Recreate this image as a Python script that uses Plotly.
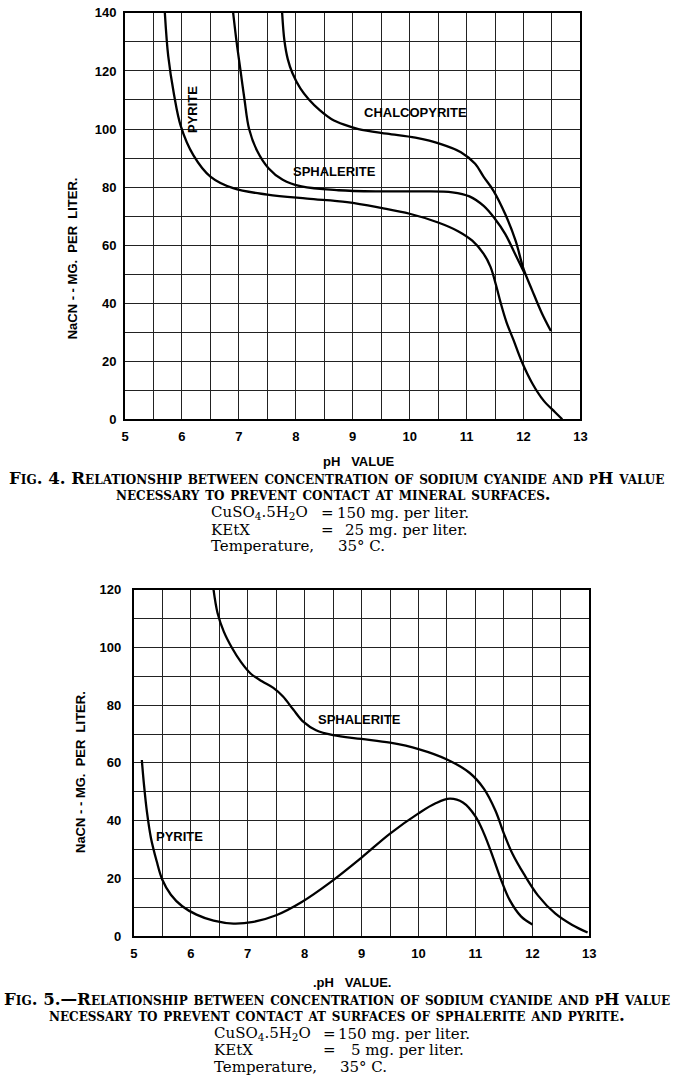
import plotly.graph_objects as go

# ---------------- data (Fig. 4) ----------------
f4_pyrite_ph = [5.70, 5.76, 5.86, 5.98, 6.2, 6.5, 6.9, 7.5, 8.2, 8.9, 9.5, 10.0, 10.5, 10.85,
                11.1, 11.3, 11.42, 11.52, 11.6, 11.7, 11.82, 11.97, 12.15, 12.35, 12.55, 12.68]
f4_pyrite_val = [140, 125, 112, 101, 91, 83.6, 79.6, 77.4, 76, 74.8, 72.8, 70.8, 67.8, 64.8,
                 61.5, 57, 52.5, 46, 40, 33.5, 27.5, 19.8, 12.5, 6.5, 2.5, 0]

f4_sphal_ph = [6.9, 6.96, 7.03, 7.1, 7.18, 7.32, 7.52, 7.77, 8.1, 8.75, 9.5, 10.2, 10.75, 11.05,
               11.3, 11.5, 11.68, 11.85, 12.02]
f4_sphal_val = [140, 130, 120, 110, 100, 92.5, 86.5, 82.5, 80.2, 78.9, 78.5, 78.5, 78.2, 76.8,
                73.5, 69, 63.8, 57, 50.2]

f4_chalco_ph = [7.76, 7.8, 7.86, 7.94, 8.08, 8.23, 8.42, 8.63, 8.85, 9.1, 9.6, 10.1, 10.55, 10.9,
                11.15, 11.3, 11.47, 11.68, 11.86, 12.0, 12.15, 12.32, 12.48]
f4_chalco_val = [140, 130.5, 124, 119.3, 114, 110.2, 106.5, 103.4, 101.5, 100, 98.4, 97, 94.8, 92,
                 88, 83.5, 78.8, 70.6, 61.5, 51.8, 44.5, 36.6, 30.4]

# ---------------- data (Fig. 5) ----------------
f5_sphal_ph = [6.4, 6.47, 6.58, 6.72, 6.88, 7.05, 7.25, 7.45, 7.62, 7.8, 7.98, 8.2, 8.5, 9.0, 9.5,
               10.0, 10.5, 10.9, 11.15, 11.35, 11.5, 11.65, 11.85, 12.1, 12.4, 12.7, 12.97]
f5_sphal_val = [120, 112, 105.5, 100, 95, 91, 88.3, 86, 83, 78.5, 74.2, 71.3, 69.6, 68.3, 67,
                64.8, 61.2, 56.5, 51, 43.5, 35.5, 28.5, 21.5, 14, 7.8, 3.8, 1.2]

f5_pyrite_ph = [5.14, 5.18, 5.23, 5.3, 5.4, 5.5, 5.65, 5.85, 6.1, 6.4, 6.75, 7.1, 7.5, 7.95, 8.45,
                9.0, 9.5, 10.0, 10.3, 10.55, 10.78, 11.0, 11.15, 11.3, 11.45, 11.6, 11.8, 12.0]
f5_pyrite_val = [61, 52, 43, 34, 26, 19.5, 14.3, 10.3, 7.4, 5.3, 4.3, 4.9, 7.2, 11.8, 18.6,
                 27.2, 35.5, 42.5, 46, 47.6, 46.3, 41.5, 35.5, 27.8, 19.5, 12.5, 6.8, 4.0]

x_ticks = [5, 6, 7, 8, 9, 10, 11, 12, 13]
f4_y_ticks = [0, 20, 40, 60, 80, 100, 120, 140]
f5_y_ticks = [0, 20, 40, 60, 80, 100, 120]

W, H = 676, 1086
SANS = "Liberation Sans"
SERIF = "DejaVu Serif"

fig = go.Figure()
line = dict(color="black", width=2.3, shape="spline", smoothing=1.0)

for xs, ys in [(f4_pyrite_ph, f4_pyrite_val), (f4_sphal_ph, f4_sphal_val), (f4_chalco_ph, f4_chalco_val)]:
    fig.add_trace(go.Scatter(x=xs, y=ys, mode="lines", line=line, xaxis="x", yaxis="y",
                             showlegend=False, hoverinfo="skip"))
for xs, ys in [(f5_sphal_ph, f5_sphal_val), (f5_pyrite_ph, f5_pyrite_val)]:
    fig.add_trace(go.Scatter(x=xs, y=ys, mode="lines", line=line, xaxis="x2", yaxis="y2",
                             showlegend=False, hoverinfo="skip"))


def px_x(p):
    return p / W


def px_y(p):
    return 1 - p / H


def xaxis(domain, ticklen):
    return dict(domain=domain, range=[5, 13], tickmode="array", tickvals=x_ticks,
                ticktext=[str(v) for v in x_ticks],
                showgrid=True, gridcolor="#222", gridwidth=1.3,
                minor=dict(dtick=0.5, tick0=5, showgrid=True, gridcolor="#222", gridwidth=1.3),
                showline=True, linecolor="black", linewidth=2, mirror=True,
                ticks="outside", ticklen=ticklen, tickcolor="rgba(0,0,0,0)",
                tickfont=dict(family=SANS, size=13, color="black", weight="bold"),
                zeroline=False, fixedrange=True)


def yaxis(domain, rng, tickvals, ticklen, anchor):
    return dict(domain=domain, range=rng, tickmode="array", tickvals=tickvals,
                ticktext=[str(v) for v in tickvals], anchor=anchor,
                showgrid=True, gridcolor="#222", gridwidth=1.3,
                minor=dict(dtick=10, tick0=0, showgrid=True, gridcolor="#222", gridwidth=1.3),
                showline=True, linecolor="black", linewidth=2, mirror=True,
                ticks="outside", ticklen=ticklen, tickcolor="rgba(0,0,0,0)",
                tickfont=dict(family=SANS, size=13, color="black", weight="bold"),
                zeroline=False, fixedrange=True)


fig.update_layout(
    width=W, height=H, margin=dict(l=0, r=0, t=0, b=0),
    paper_bgcolor="white", plot_bgcolor="white", showlegend=False,
    xaxis=dict(xaxis([px_x(123), px_x(586)], 4), anchor="y"),
    yaxis=yaxis([px_y(418), px_y(6)], [0, 140], f4_y_ticks, 4, "x"),
    xaxis2=dict(xaxis([px_x(132), px_x(595)], 4), anchor="y2"),
    yaxis2=yaxis([px_y(942), px_y(591)], [0, 120], f5_y_ticks, 8, "x2"),
)

ann = []
lab_font = dict(family=SANS, size=13, color="black", weight="bold")


def lab(x, y, xref, yref, text, angle=0):
    ann.append(dict(x=x, y=y, xref=xref, yref=yref, text=text, textangle=angle, showarrow=False,
                    font=lab_font, xanchor="center", yanchor="middle"))


# curve labels
lab(6.19, 106.8, "x", "y", "PYRITE", -90)
lab(8.68, 85.2, "x", "y", "SPHALERITE")
lab(10.11, 105.6, "x", "y", "CHALCOPYRITE")
lab(8.97, 75.2, "x2", "y2", "SPHALERITE")
lab(5.81, 34.4, "x2", "y2", "PYRITE")

# axis titles
ax_font = dict(family=SANS, size=13, color="black", weight="bold")


def axt(x, y, text, angle=0):
    ann.append(dict(x=px_x(x), y=px_y(y), xref="paper", yref="paper", text=text, textangle=angle,
                    showarrow=False, font=ax_font, xanchor="center", yanchor="middle"))


axt(70, 255, "NaCN - - MG.  PER  LITER.", -90)
axt(78, 776, "NaCN - - MG.  PER  LITER.", -90)
axt(361, 461, "pH   VALUE")
axt(354, 989, ".pH   VALUE.")

# captions
cap_font = dict(family=SERIF, size=16.6, color="black", variant="small-caps", weight="bold")
body_font = dict(family=SERIF, size=15, color="black")


def cap(x, y, text, font, xanchor="center"):
    ann.append(dict(x=px_x(x), y=px_y(y), xref="paper", yref="paper", text=text, showarrow=False,
                    font=font, xanchor=xanchor, yanchor="middle"))


CUSO = "CuSO<sub>4</sub>.5H<sub>2</sub>O"

cap(338, 478, "Fig. 4. Relationship between concentration of sodium cyanide and pH value", cap_font)
cap(335, 494, "necessary to prevent contact at mineral surfaces.", cap_font)
cap(208, 513, CUSO, body_font, "left")
cap(320, 513, "=", body_font, "left")
cap(336, 513, "150 mg. per liter.", body_font, "left")
cap(208, 530, "KEtX", body_font, "left")
cap(320, 530, "=", body_font, "left")
cap(345, 530, "25 mg. per liter.", body_font, "left")
cap(208, 547, "Temperature,", body_font, "left")
cap(337, 547, "35° C.", body_font, "left")

cap(338, 1006, "Fig. 5.—Relationship between concentration of sodium cyanide and pH value", cap_font)
cap(338, 1022, "necessary to prevent contact at surfaces of sphalerite and pyrite.", cap_font)
cap(211, 1041, CUSO, body_font, "left")
cap(322, 1041, "=", body_font, "left")
cap(337, 1041, "150 mg. per liter.", body_font, "left")
cap(211, 1058, "KEtX", body_font, "left")
cap(322, 1058, "=", body_font, "left")
cap(351, 1058, "5 mg. per liter.", body_font, "left")
cap(211, 1075, "Temperature,", body_font, "left")
cap(340, 1075, "35° C.", body_font, "left")

fig.update_layout(annotations=ann)
fig.write_html("out.html")
